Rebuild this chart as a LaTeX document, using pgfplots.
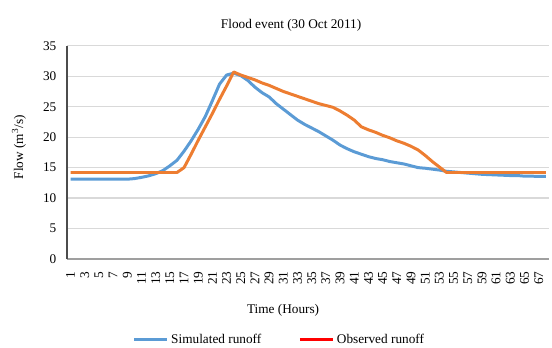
\documentclass[border=0pt]{standalone}
\usepackage{fontspec}
\setmainfont{Liberation Serif}
\usepackage{pgfplots}
\pgfplotsset{compat=1.18}
\usepackage{pgfplotstable}
\definecolor{exblue}{HTML}{5B9BD5}
\definecolor{exorange}{HTML}{ED7D31}
\definecolor{exgrid}{HTML}{D9D9D9}
\pgfplotstableread{
x sim obs
1 13.1 14.2
2 13.1 14.2
3 13.1 14.2
4 13.1 14.2
5 13.1 14.2
6 13.1 14.2
7 13.1 14.2
8 13.1 14.2
9 13.1 14.2
10 13.2 14.2
11 13.4 14.2
12 13.65 14.2
13 14.0 14.2
14 14.5 14.2
15 15.3 14.2
16 16.2 14.2
17 17.7 15.0
18 19.4 17.2
19 21.3 19.5
20 23.4 21.7
21 26.0 23.9
22 28.7 26.2
23 30.2 28.4
24 30.5 30.7
25 30.1 30.2
26 29.3 29.8
27 28.2 29.4
28 27.3 28.9
29 26.6 28.5
30 25.5 28.0
31 24.6 27.5
32 23.7 27.1
33 22.8 26.7
34 22.1 26.3
35 21.5 25.9
36 20.9 25.5
37 20.2 25.2
38 19.5 24.9
39 18.7 24.3
40 18.1 23.6
41 17.6 22.8
42 17.2 21.7
43 16.8 21.2
44 16.5 20.8
45 16.3 20.3
46 16.0 19.9
47 15.8 19.4
48 15.6 19.0
49 15.3 18.5
50 15.0 17.9
51 14.9 17.0
52 14.75 16.0
53 14.6 15.1
54 14.4 14.2
55 14.3 14.2
56 14.2 14.2
57 14.1 14.2
58 14.0 14.2
59 13.9 14.2
60 13.85 14.2
61 13.8 14.2
62 13.75 14.2
63 13.7 14.2
64 13.7 14.2
65 13.6 14.2
66 13.6 14.2
67 13.55 14.2
68 13.55 14.2
}\flowdata
\begin{document}
\begin{tikzpicture}
\begin{axis}[
  name=ax,
  scale only axis,
  width=363.5pt, height=160.7pt,
  xmin=0.5, xmax=68.5, ymin=0, ymax=35,
  axis x line*=bottom, axis y line*=left,
  x axis line style={draw=gray!75, line width=0.8pt, -},
  y axis line style={draw=black!70, line width=0.8pt, -},
  xtick={1,3,...,67},
  ytick={0,5,...,35},
  major tick length=0pt,
  ymajorgrids, grid style={draw=exgrid, line width=0.9pt},
  /pgf/number format/assume math mode=true,
  tick label style={font=\fontsize{10}{12}\selectfont},
  xticklabel style={rotate=90, anchor=east, xshift=-6pt},
  yticklabel style={xshift=-4.5pt},
  title={Flood event (30 Oct 2011)},
  title style={at={(0.4646,1)}, anchor=center, yshift=9.5pt},
  xlabel={Time (Hours)},
  xlabel style={at={(0.448,0)}, anchor=center, yshift=-39pt},
  ylabel={Flow (m\textsuperscript{3}/s)},
  ylabel style={at={(0,0.524)}, anchor=center, yshift=36.2pt},
  legend columns=2,
  legend style={at={(0.441,-0.378)}, anchor=center, draw=none, fill=none,
    /tikz/every even column/.append style={column sep=26pt}},
  legend image code/.code={\draw[#1] (0pt,0pt) -- (24.75pt,0pt);},
  clip=true,
]
\addplot[exblue, line width=2.25pt, line join=round] table[x=x, y=sim] {\flowdata};
\addlegendentry{Simulated runoff}
\addplot[exorange, line width=2.25pt, line join=round, forget plot] table[x=x, y=obs] {\flowdata};
\addlegendimage{red, line width=2.25pt}
\addlegendentry{Observed runoff}
\end{axis}
\pgfresetboundingbox
\path ([xshift=-50.5pt, yshift=-66.5pt]ax.south west) rectangle ([xshift=2pt, yshift=34.5pt]ax.north east);
\end{tikzpicture}
\end{document}
